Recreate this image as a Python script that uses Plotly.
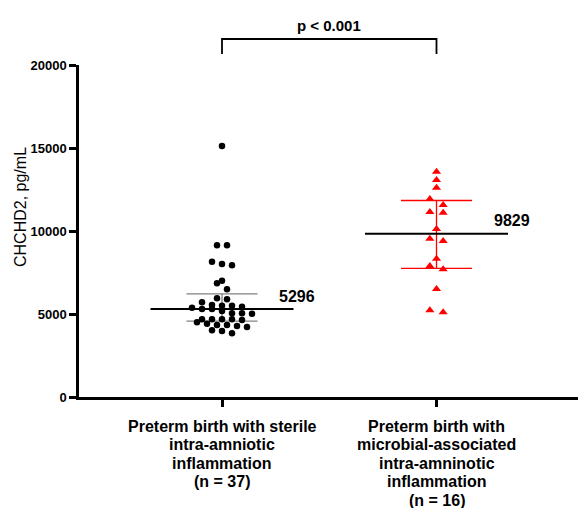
import numpy as np
import plotly.graph_objects as go

# ---------------- data ----------------
category_lines = [
    ["Preterm birth with sterile", "intra-amniotic", "inflammation", "(n = 37)"],
    ["Preterm birth with", "microbial-associated", "intra-amninotic", "inflammation", "(n = 16)"],
]
sterile_values = [
    15120, 9137, 9137, 8150, 8012, 7932, 7008, 6847, 6486,
    5944, 5884, 5703, 5542, 5502, 5502, 5442, 5382, 5301, 5296,
    5181, 5040, 5040, 5020, 4679, 4679, 4679, 4679, 4638, 4498,
    4418, 4337, 4337, 4277, 4217, 4016, 3976, 3837,
]
microbial_values = [
    13572, 13072, 12608, 11928, 11566, 11144, 11102, 10122,
    9536, 9398, 8331, 7891, 7693, 6506, 5223, 5102,
]
median_labels = ["5296", "9829"]
y_ticks = [0, 5000, 10000, 15000, 20000]
p_text = "p < 0.001"

# ---------------- layout constants ----------------
W, H = 579, 508
ML, MR, MT, MB = 79, 1, 65, 111
PW, PH = W - ML - MR, H - MT - MB
Y_MAX = 20000
PX_PER_X = 214.5
X0_PX = 222 - ML
x_range = [-X0_PX / PX_PER_X, (PW - X0_PX) / PX_PER_X]
units_per_px_y = Y_MAX / PH
FONT = "Liberation Sans, Arial, sans-serif"


def swarm_offsets(values, bin_px, step_px):
    vals = np.asarray(values, dtype=float)
    order = np.argsort(vals)
    bin_u = bin_px * units_per_px_y
    rows, cur, start = [], [], None
    for i in order:
        if start is None or vals[i] - start >= bin_u:
            if cur:
                rows.append(cur)
            cur, start = [i], vals[i]
        else:
            cur.append(i)
    if cur:
        rows.append(cur)
    off = np.zeros(len(vals))
    for r in rows:
        r = sorted(r, key=lambda k: -vals[k])
        n = len(r)
        for j, k in enumerate(r):
            off[k] = (j - (n - 1) / 2) * step_px / PX_PER_X
    return off


groups = [
    dict(vals=sterile_values, color="black", line_color="#808080", symbol="circle",
         size=6.5, bin_px=6.2, step_px=10),
    dict(vals=microbial_values, color="#ff0000", line_color="#ff0000", symbol="triangle-up",
         size=8, bin_px=6.6, step_px=13.3),
]

fig = go.Figure()
MED_HALF = 71.5 / PX_PER_X
IQR_HALF = 35.5 / PX_PER_X

for gi, g in enumerate(groups):
    vals = np.asarray(g["vals"], dtype=float)
    q1, med, q3 = np.percentile(vals, [25, 50, 75], method="weibull")
    # IQR lines
    fig.add_trace(go.Scatter(
        x=[gi - IQR_HALF, gi + IQR_HALF, None, gi - IQR_HALF, gi + IQR_HALF, None, gi, gi],
        y=[q1, q1, None, q3, q3, None, q1, q3],
        mode="lines", line=dict(color=g["line_color"], width=1.3),
        hoverinfo="skip", showlegend=False))
    # median line
    fig.add_trace(go.Scatter(
        x=[gi - MED_HALF, gi + MED_HALF], y=[med, med],
        mode="lines", line=dict(color="black", width=2),
        hoverinfo="skip", showlegend=False))
    # points
    offs = swarm_offsets(vals, g["bin_px"], g["step_px"])
    fig.add_trace(go.Scatter(
        x=gi + offs, y=vals, mode="markers",
        marker=dict(color=g["color"], symbol=g["symbol"], size=g["size"], line=dict(width=0)),
        showlegend=False))
    # median label
    fig.add_annotation(x=gi + 55 / PX_PER_X, y=float(median_labels[gi]), xref="x", yref="y",
                       text="<b>" + median_labels[gi] + "</b>", showarrow=False,
                       xanchor="left", yanchor="middle", yshift=13,
                       font=dict(family=FONT, size=16, color="black"))
    # category labels, line by line
    for li, t in enumerate(category_lines[gi]):
        fig.add_annotation(x=gi, y=0, xref="x", yref="paper",
                           text="<b>" + t + "</b>", showarrow=False,
                           xanchor="center", yanchor="middle",
                           yshift=-(29 + li * 18.5),
                           font=dict(family=FONT, size=16, color="black"))

# significance bracket
yb_top = (397 - 39) / PH
yb_bot = (397 - 54) / PH
fig.add_shape(type="path", xref="x", yref="paper",
              path=f"M 0 {yb_bot} L 0 {yb_top} L 1 {yb_top} L 1 {yb_bot}",
              line=dict(color="black", width=1.8))
fig.add_annotation(x=0.5, y=(397 - 25) / PH, xref="x", yref="paper",
                   text="<b>" + p_text + "</b>", showarrow=False,
                   xanchor="center", yanchor="middle",
                   font=dict(family=FONT, size=15, color="black"))

# y-axis title
fig.add_annotation(x=(20 - ML) / PW, y=(397 - 207) / PH, xref="paper", yref="paper",
                   text="CHCHD2, pg/mL", textangle=-90, showarrow=False,
                   xanchor="center", yanchor="middle",
                   font=dict(family=FONT, size=16, color="black"))

fig.update_layout(
    width=W, height=H,
    margin=dict(l=ML, r=MR, t=MT, b=MB, pad=0),
    plot_bgcolor="white", paper_bgcolor="white",
    xaxis=dict(range=x_range, tickvals=[0, 1], showticklabels=False,
               ticks="outside", ticklen=7, tickwidth=2.5, tickcolor="black",
               showline=True, linecolor="black", linewidth=2.5,
               showgrid=False, zeroline=False, fixedrange=True),
    yaxis=dict(range=[0, Y_MAX], tickvals=y_ticks, ticktext=[f"<b>{v}</b>" for v in y_ticks],
               ticks="outside", ticklen=7, tickwidth=2.5, tickcolor="black",
               showline=True, linecolor="black", linewidth=2.5,
               showgrid=False, zeroline=False,
               tickfont=dict(family=FONT, size=13, color="black")),
)

fig.write_html("out.html")
